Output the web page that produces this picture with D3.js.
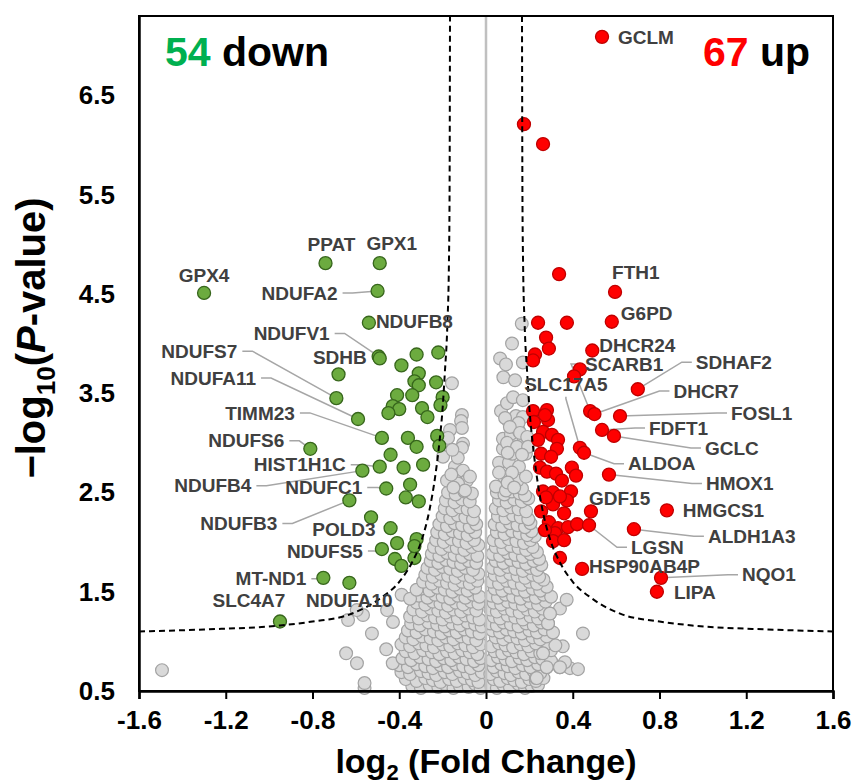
<!DOCTYPE html>
<html>
<head>
<meta charset="utf-8">
<script src="https://cdn.jsdelivr.net/npm/d3@7"></script>
<style>
  body { margin: 0; background: #fff; }
  svg text { font-family: "Liberation Sans", Arial, sans-serif; font-weight: bold; }
</style>
</head>
<body>
<svg id="chart" width="854" height="784"></svg>
<script>
var xTicks = [-1.6, -1.2, -0.8, -0.4, 0, 0.4, 0.8, 1.2, 1.6];
var yTicks = [0.5, 1.5, 2.5, 3.5, 4.5, 5.5, 6.5];

// significant down-regulated genes: [name, log2FC, -log10 p] (name "" = unlabeled)
var downGenes = [
  ["GPX4", -1.30, 4.51], ["PPAT", -0.74, 4.81], ["GPX1", -0.49, 4.81], ["NDUFA2", -0.50, 4.53],
  ["NDUFB8", -0.54, 4.21], ["NDUFV1", -0.495, 3.87], ["SDHB", -0.49, 3.85], ["NDUFS7", -0.69, 3.45],
  ["NDUFA11", -0.59, 3.24], ["TIMM23", -0.48, 3.05], ["NDUFS6", -0.81, 2.94], ["HIST1H1C", -0.49, 2.76],
  ["NDUFB4", -0.57, 2.72], ["NDUFC1", -0.46, 2.54], ["NDUFB3", -0.63, 2.42], ["POLD3", -0.44, 2.14],
  ["NDUFS5", -0.48, 1.93], ["MT-ND1", -0.75, 1.64], ["NDUFA10", -0.63, 1.59], ["SLC4A7", -0.95, 1.20],
  ["", -0.68, 3.69], ["", -0.39, 3.78], ["", -0.32, 3.89], ["", -0.22, 3.91], ["", -0.31, 3.70],
  ["", -0.33, 3.62], ["", -0.31, 3.58], ["", -0.23, 3.61], ["", -0.41, 3.48], ["", -0.34, 3.48],
  ["", -0.20, 3.46], ["", -0.21, 3.38], ["", -0.43, 3.37], ["", -0.40, 3.34], ["", -0.45, 3.30],
  ["", -0.295, 3.35], ["", -0.27, 3.26], ["", -0.36, 3.05], ["", -0.32, 2.96], ["", -0.225, 3.07],
  ["", -0.215, 2.97], ["", -0.44, 2.88], ["", -0.38, 2.75], ["", -0.29, 2.78], ["", -0.35, 2.58],
  ["", -0.37, 2.45], ["", -0.31, 2.41], ["", -0.53, 2.25], ["", -0.41, 1.99], ["", -0.32, 2.03],
  ["", -0.42, 1.83], ["", -0.39, 1.76], ["", -0.33, 1.84], ["", -0.33, 1.96]
];

// significant up-regulated genes
var upGenes = [
  ["GCLM", 0.535, 7.09], ["", 0.175, 6.21], ["", 0.263, 6.01], ["", 0.337, 4.70], ["FTH1", 0.595, 4.52],
  ["", 0.24, 4.21], ["", 0.373, 4.21], ["G6PD", 0.58, 4.22], ["", 0.277, 4.06], ["", 0.29, 3.95],
  ["DHCR24", 0.49, 3.93], ["", 0.226, 3.89], ["", 0.217, 3.83], ["", 0.433, 3.74], ["", 0.406, 3.67],
  ["SDHAF2", 0.70, 3.54], ["SCARB1", 0.48, 3.32], ["DHCR7", 0.50, 3.29], ["FOSL1", 0.618, 3.27],
  ["FDFT1", 0.535, 3.13], ["GCLC", 0.59, 3.07], ["SLC17A5", 0.433, 2.95], ["ALDOA", 0.452, 2.90],
  ["HMOX1", 0.567, 2.68], ["", 0.217, 3.32], ["", 0.281, 3.33], ["", 0.286, 3.23], ["", 0.221, 3.21],
  ["", 0.263, 3.11], ["", 0.304, 3.08], ["", 0.332, 3.03], ["", 0.327, 2.94], ["", 0.254, 2.89],
  ["", 0.30, 2.86], ["", 0.249, 2.75], ["", 0.281, 2.71], ["", 0.323, 2.69], ["", 0.396, 2.75],
  ["", 0.415, 2.67], ["", 0.263, 2.51], ["", 0.309, 2.50], ["", 0.392, 2.51], ["", 0.373, 2.42],
  ["", 0.309, 2.38], ["", 0.254, 2.31], ["GDF15", 0.484, 2.31], ["", 0.36, 2.29], ["", 0.29, 2.20],
  ["", 0.332, 2.14], ["", 0.378, 2.15], ["", 0.42, 2.18], ["LGSN", 0.475, 2.17], ["", 0.318, 2.09],
  ["", 0.309, 2.01], ["", 0.341, 1.84], ["HSP90AB4P", 0.443, 1.73], ["NQO1", 0.807, 1.64],
  ["LIPA", 0.788, 1.50], ["HMGCS1", 0.834, 2.32], ["ALDH1A3", 0.682, 2.13], ["", 0.272, 3.28],
  ["", 0.24, 3.03], ["", 0.35, 2.62], ["", 0.277, 2.45], ["", 0.341, 2.46], ["", 0.272, 2.12],
  ["", 0.36, 2.02]
];

// non-significant genes [log2FC, -log10 p]
var grayPts = [
  [-0.34,0.55],[-0.30,0.53],[-0.26,0.56],[-0.22,0.54],[-0.19,0.57],[-0.15,0.53],[-0.12,0.55],[-0.08,0.54],[-0.05,0.57],[-0.025,0.53],
  [0.025,0.55],[0.05,0.53],[0.08,0.56],[0.11,0.54],[0.15,0.57],[0.18,0.53],[0.21,0.55],[0.24,0.56],[-0.56,0.53],[-0.56,0.58],
  [-0.37,0.62],[-0.32,0.60],[-0.28,0.63],[-0.245,0.61],[-0.21,0.59],[-0.17,0.62],[-0.135,0.60],[-0.10,0.63],[-0.065,0.61],[-0.035,0.59],
  [0.035,0.62],[0.065,0.60],[0.10,0.63],[0.13,0.61],[0.165,0.59],[0.20,0.62],[0.23,0.60],[0.265,0.63],
  [-0.39,0.69],[-0.35,0.67],[-0.30,0.70],[-0.265,0.68],[-0.23,0.66],[-0.19,0.69],[-0.155,0.67],[-0.12,0.70],[-0.085,0.68],[-0.05,0.66],[-0.02,0.69],
  [0.02,0.67],[0.05,0.70],[0.085,0.68],[0.115,0.66],[0.15,0.69],[0.185,0.67],[0.22,0.70],[0.25,0.68],[0.28,0.74],[0.23,0.63],
  [-0.40,0.76],[-0.36,0.74],[-0.32,0.77],[-0.28,0.75],[-0.245,0.73],[-0.21,0.76],[-0.175,0.74],[-0.14,0.77],[-0.105,0.75],[-0.07,0.73],[-0.035,0.76],
  [0.035,0.74],[0.07,0.77],[0.10,0.75],[0.135,0.73],[0.17,0.76],[0.205,0.74],[0.24,0.77],[0.34,0.74],[0.387,0.73],[0.424,0.72],[0.364,0.79],[-0.43,0.78],[-0.595,0.78],
  [-0.385,0.83],[-0.345,0.81],[-0.305,0.84],[-0.265,0.82],[-0.23,0.80],[-0.195,0.83],[-0.16,0.81],[-0.125,0.84],[-0.09,0.82],[-0.055,0.80],[-0.025,0.83],
  [0.025,0.81],[0.055,0.84],[0.09,0.82],[0.12,0.80],[0.155,0.83],[0.19,0.81],[0.225,0.84],[0.26,0.82],[0.30,0.80],
  [-0.37,0.90],[-0.33,0.88],[-0.29,0.91],[-0.25,0.89],[-0.215,0.87],[-0.18,0.90],[-0.145,0.88],[-0.11,0.91],[-0.075,0.89],[-0.04,0.87],
  [0.04,0.90],[0.075,0.88],[0.105,0.91],[0.14,0.89],[0.175,0.87],[0.21,0.90],[0.25,0.88],[0.30,0.91],[-0.645,0.88],[-0.46,0.92],[0.354,0.95],
  [-0.39,0.97],[-0.35,0.95],[-0.31,0.98],[-0.275,0.96],[-0.24,0.94],[-0.20,0.97],[-0.165,0.95],[-0.13,0.98],[-0.095,0.96],[-0.06,0.94],[-0.025,0.97],
  [0.025,0.95],[0.06,0.98],[0.09,0.96],[0.125,0.94],[0.16,0.97],[0.195,0.95],[0.23,0.98],[0.286,0.98],[0.32,0.96],
  [-0.37,1.04],[-0.335,1.02],[-0.295,1.05],[-0.255,1.03],[-0.22,1.01],[-0.185,1.04],[-0.15,1.02],[-0.115,1.05],[-0.08,1.03],[-0.045,1.01],
  [0.045,1.04],[0.08,1.02],[0.11,1.05],[0.145,1.03],[0.18,1.01],[0.215,1.04],[0.25,1.02],[0.28,1.05],[-0.526,1.08],
  [-0.36,1.11],[-0.32,1.09],[-0.28,1.12],[-0.24,1.10],[-0.205,1.08],[-0.17,1.11],[-0.135,1.09],[-0.10,1.12],[-0.065,1.10],[-0.03,1.08],
  [0.03,1.11],[0.065,1.09],[0.095,1.12],[0.13,1.10],[0.165,1.08],[0.20,1.11],[0.235,1.09],[0.27,1.12],[0.309,1.09],[0.447,1.08],
  [-0.345,1.18],[-0.305,1.16],[-0.265,1.19],[-0.225,1.17],[-0.19,1.15],[-0.155,1.18],[-0.12,1.16],[-0.085,1.19],[-0.05,1.17],[-0.02,1.15],
  [0.02,1.18],[0.05,1.16],[0.08,1.19],[0.115,1.17],[0.15,1.15],[0.185,1.18],[0.22,1.16],[0.255,1.19],[0.286,1.18],[-0.429,1.195],[-0.636,1.215],
  [-0.35,1.25],[-0.31,1.23],[-0.27,1.26],[-0.235,1.24],[-0.20,1.22],[-0.165,1.25],[-0.13,1.23],[-0.095,1.26],[-0.06,1.24],[-0.03,1.22],
  [0.035,1.25],[0.065,1.23],[0.10,1.26],[0.135,1.24],[0.17,1.22],[0.205,1.25],[0.24,1.23],[0.27,1.26],[0.295,1.28],[-0.567,1.265],
  [-0.335,1.32],[-0.295,1.30],[-0.255,1.33],[-0.22,1.31],[-0.185,1.29],[-0.15,1.32],[-0.115,1.30],[-0.08,1.33],[-0.045,1.31],
  [0.02,1.32],[0.05,1.30],[0.085,1.33],[0.12,1.31],[0.155,1.29],[0.19,1.32],[0.225,1.30],[0.26,1.33],[0.341,1.33],[-0.596,1.315],[-0.456,1.315],
  [-0.32,1.39],[-0.28,1.37],[-0.245,1.40],[-0.21,1.38],[-0.175,1.36],[-0.14,1.39],[-0.105,1.37],[-0.07,1.40],[-0.035,1.38],
  [0.035,1.39],[0.07,1.37],[0.10,1.40],[0.135,1.38],[0.17,1.36],[0.205,1.39],[0.24,1.37],[0.275,1.40],
  [-0.31,1.46],[-0.27,1.44],[-0.235,1.47],[-0.20,1.45],[-0.165,1.43],[-0.13,1.46],[-0.095,1.44],[-0.06,1.47],[-0.03,1.45],
  [0.025,1.46],[0.055,1.44],[0.09,1.47],[0.125,1.45],[0.16,1.43],[0.195,1.46],[0.23,1.44],[0.265,1.47],[0.30,1.45],[0.372,1.42],[-0.389,1.47],[-0.35,1.43],
  [-0.30,1.53],[-0.26,1.51],[-0.225,1.54],[-0.19,1.52],[-0.155,1.50],[-0.12,1.53],[-0.085,1.51],[-0.05,1.54],
  [0.04,1.53],[0.075,1.51],[0.11,1.54],[0.145,1.52],[0.18,1.50],[0.215,1.53],[0.25,1.51],[0.28,1.55],[-0.32,1.52],
  [-0.29,1.60],[-0.25,1.58],[-0.215,1.61],[-0.18,1.59],[-0.145,1.57],[-0.11,1.60],[-0.075,1.58],[-0.04,1.61],
  [0.025,1.60],[0.06,1.58],[0.095,1.61],[0.13,1.59],[0.165,1.57],[0.20,1.60],[0.235,1.58],[0.265,1.62],
  [-0.28,1.67],[-0.245,1.65],[-0.21,1.68],[-0.175,1.66],[-0.14,1.64],[-0.105,1.67],[-0.07,1.65],[-0.035,1.68],
  [0.04,1.67],[0.075,1.65],[0.11,1.68],[0.145,1.66],[0.18,1.64],[0.215,1.67],[0.245,1.65],
  [-0.27,1.74],[-0.235,1.72],[-0.20,1.75],[-0.165,1.73],[-0.13,1.71],[-0.095,1.74],[-0.06,1.72],
  [0.03,1.74],[0.065,1.72],[0.10,1.75],[0.135,1.73],[0.17,1.71],[0.205,1.74],[0.235,1.72],[0.255,1.77],
  [-0.255,1.81],[-0.22,1.79],[-0.185,1.82],[-0.15,1.80],[-0.115,1.78],[-0.08,1.81],[-0.045,1.79],
  [0.045,1.81],[0.08,1.79],[0.115,1.82],[0.15,1.80],[0.185,1.78],[0.22,1.81],[0.245,1.83],
  [-0.25,1.88],[-0.215,1.86],[-0.18,1.89],[-0.145,1.87],[-0.11,1.85],[-0.075,1.88],[-0.04,1.86],
  [0.03,1.88],[0.065,1.86],[0.10,1.89],[0.135,1.87],[0.17,1.85],[0.205,1.88],[0.235,1.90],
  [-0.24,1.95],[-0.205,1.93],[-0.17,1.96],[-0.135,1.94],[-0.10,1.92],[-0.065,1.95],[-0.035,1.97],
  [0.045,1.95],[0.08,1.93],[0.115,1.96],[0.15,1.94],[0.185,1.92],[0.215,1.95],
  [-0.23,2.02],[-0.195,2.00],[-0.16,2.03],[-0.125,2.01],[-0.09,1.99],[-0.055,2.02],
  [0.035,2.02],[0.07,2.00],[0.105,2.03],[0.14,2.01],[0.175,1.99],[0.205,2.02],[0.225,2.06],
  [-0.225,2.10],[-0.19,2.08],[-0.155,2.11],[-0.12,2.09],[-0.085,2.07],[-0.05,2.10],
  [0.05,2.10],[0.085,2.08],[0.12,2.11],[0.155,2.09],[0.19,2.07],[0.21,2.11],
  [-0.215,2.18],[-0.18,2.16],[-0.145,2.19],[-0.11,2.17],[-0.075,2.15],[-0.045,2.18],
  [0.04,2.18],[0.075,2.16],[0.11,2.19],[0.145,2.17],[0.18,2.15],[0.205,2.19],
  [-0.20,2.26],[-0.165,2.24],[-0.13,2.27],[-0.095,2.25],[-0.06,2.23],
  [0.055,2.26],[0.09,2.24],[0.125,2.27],[0.16,2.25],[0.195,2.23],
  [-0.19,2.34],[-0.155,2.32],[-0.12,2.35],[-0.085,2.33],[-0.055,2.31],
  [0.045,2.34],[0.08,2.32],[0.115,2.35],[0.15,2.33],[0.185,2.31],
  [-0.185,2.42],[-0.145,2.40],[-0.11,2.43],[-0.075,2.41],
  [0.06,2.42],[0.095,2.40],[0.13,2.43],[0.165,2.41],[0.195,2.44],
  [-0.175,2.50],[-0.14,2.48],[-0.10,2.51],[-0.065,2.49],
  [0.05,2.50],[0.085,2.48],[0.12,2.51],[0.155,2.49],[0.18,2.47],
  [0.046,2.56],[0.092,2.52],[0.166,2.54],[0.083,2.66],[0.145,2.62],[0.184,2.66],[0.06,2.80],[0.106,2.80],[0.152,2.76],
  [0.078,2.94],[0.122,2.89],[0.184,2.89],[0.145,2.99],[0.175,3.03],[0.078,3.04],[0.115,3.09],[0.152,3.12],[0.106,3.21],
  [0.138,3.27],[0.069,3.32],[0.097,3.40],[0.125,3.46],[0.17,3.43],[0.17,3.26],[0.088,3.25],[0.15,3.20],[0.11,3.16],
  [0.157,3.10],[0.19,3.06],[0.097,3.00],[0.143,2.96],[0.194,2.96],[0.10,2.90],[0.166,2.88],[0.08,3.66],[0.134,3.63],
  [0.065,3.85],[0.092,3.79],[0.17,3.81],[0.12,4.00],[0.165,4.20],[0.06,2.70],[0.12,2.70],[0.10,2.60],[0.13,2.55],
  [-0.157,3.60],[-0.111,3.28],[-0.115,3.22],[-0.111,3.15],[-0.166,3.13],[-0.175,3.05],[-0.106,2.99],[-0.111,2.95],
  [-0.198,2.86],[-0.143,2.76],[-0.12,2.69],[-0.106,2.72],[-0.088,2.62],[-0.129,2.59],[-0.097,2.52],[-0.18,2.62],
  [-0.074,2.66],[-0.15,2.55],[-0.16,2.68],[-0.13,2.85],[-0.155,2.93],
  [-1.494,0.71],[0.341,0.74],[0.28,0.74],[0.234,0.63],[0.263,0.88],[0.286,1.18],[0.295,1.28]
];

// threshold curve: [|log2FC|, -log10 p]
var cutoff = [
  [0.166, 7.3], [0.168, 5.5], [0.171, 4.8], [0.178, 4.2], [0.19, 3.7], [0.20, 3.35], [0.215, 3.0],
  [0.235, 2.65], [0.26, 2.33], [0.295, 2.03], [0.34, 1.8], [0.40, 1.6], [0.49, 1.43], [0.63, 1.27],
  [0.80, 1.2], [0.95, 1.16], [1.3, 1.12], [1.6, 1.1]
];

// label placement: offset in px from the point, text anchor, leader line
var labelLayout = {
  "GCLM": [16, 1, "start", false], "FTH1": [-3, -20, "start", false], "G6PD": [9, -8, "start", false],
  "DHCR24": [7, -5, "start", false], "SCARB1": [-5, -47, "start", true], "SDHAF2": [58, -27, "start", true],
  "DHCR7": [79, -23, "start", true], "FOSL1": [111, -3, "start", true], "FDFT1": [47, -2, "start", true],
  "GCLC": [91, 12, "start", true], "SLC17A5": [-14, -63, "middle", true], "ALDOA": [44, 11, "start", true],
  "HMOX1": [97, 9, "start", true], "GDF15": [-2, -13, "start", false], "HMGCS1": [16, 0, "start", false],
  "ALDH1A3": [74, 7, "start", true], "LGSN": [42, 22, "start", true], "HSP90AB4P": [7, -3, "start", false],
  "NQO1": [81, -3, "start", true], "LIPA": [17, 1, "start", false],
  "GPX4": [0, -18, "middle", false], "PPAT": [6, -19, "middle", false], "GPX1": [12, -20, "middle", false],
  "NDUFA2": [-40, 2, "end", true], "NDUFB8": [7, -1, "start", false], "NDUFV1": [-49, -23, "end", true],
  "SDHB": [-13, -1, "end", false], "NDUFS7": [-99, -47, "end", true], "NDUFA11": [-102, -41, "end", true],
  "TIMM23": [-87, -25, "end", true], "NDUFS6": [-26, -8, "end", true], "HIST1H1C": [-34, -2, "end", true],
  "NDUFB4": [-111, 15, "end", true], "NDUFC1": [-24, -1, "end", true], "NDUFB3": [-72, 23, "end", true],
  "POLD3": [-15, 1, "end", false], "NDUFS5": [-19, 2, "end", true], "MT-ND1": [-17, 1, "end", true],
  "NDUFA10": [0, 18, "middle", false], "SLC4A7": [-31, -21, "middle", false]
};

var svg = d3.select("#chart");
var margin = { top: 16, right: 21, bottom: 93, left: 139 };
var W = 854, H = 784;

var x = d3.scaleLinear().domain([-1.6, 1.6]).range([margin.left, W - margin.right]);
var y = d3.scaleLinear().domain([0.5, 7.3]).range([H - margin.bottom, margin.top]);

// gray background genes
svg.append("g").selectAll("circle")
  .data(grayPts)
  .enter().append("circle")
  .attr("cx", function (d) { return x(d[0]); })
  .attr("cy", function (d) { return y(d[1]); })
  .attr("r", 6.4)
  .style("fill", "#d9d9d9")
  .style("stroke", "#a3a3a3")
  .style("stroke-width", 1.2);

// zero line
svg.append("line")
  .attr("x1", x(0)).attr("x2", x(0))
  .attr("y1", y(0.5)).attr("y2", y(7.3))
  .style("stroke", "#c0c0c0")
  .style("stroke-width", 2.5);

// leader lines
var allLabeled = downGenes.concat(upGenes).filter(function (d) { return d[0] !== ""; });
svg.append("g").selectAll("polyline")
  .data(allLabeled.filter(function (d) { return labelLayout[d[0]][3]; }))
  .enter().append("polyline")
  .attr("points", function (d) {
    var l = labelLayout[d[0]];
    var px = x(d[1]), py = y(d[2]);
    var tx = px + l[0], ty = py + l[1];
    var p1, p2;
    if (l[2] === "end") { p1 = [tx + 5, ty]; p2 = [tx + 15, ty]; }
    else if (l[2] === "start") { p1 = [tx - 4, ty]; p2 = [tx - 14, ty]; }
    else { p1 = [tx, ty + 12]; p2 = [tx, ty + 14]; }
    return [p1, p2, [px, py]].map(function (p) { return p[0] + "," + p[1]; }).join(" ");
  })
  .style("fill", "none")
  .style("stroke", "#a6a6a6")
  .style("stroke-width", 1.5);

function drawGenes(data, fill, stroke) {
  svg.append("g").selectAll("circle")
    .data(data)
    .enter().append("circle")
    .attr("cx", function (d) { return x(d[1]); })
    .attr("cy", function (d) { return y(d[2]); })
    .attr("r", 6.5)
    .style("fill", fill)
    .style("stroke", stroke)
    .style("stroke-width", 1.3);
}
drawGenes(downGenes, "#6cab3f", "#37661c");
drawGenes(upGenes, "#ff0000", "#c00000");

// threshold curves
var curveLine = d3.line()
  .x(function (d) { return x(d[0]); })
  .y(function (d) { return y(d[1]); })
  .curve(d3.curveMonotoneX);
var leftCut = cutoff.map(function (d) { return [-d[0], d[1]]; }).reverse();
[cutoff, leftCut].forEach(function (c) {
  svg.append("path")
    .attr("d", curveLine(c))
    .style("fill", "none")
    .style("stroke", "#000")
    .style("stroke-width", 2)
    .style("stroke-dasharray", "6,4");
});

// gene labels
svg.append("g").selectAll("text")
  .data(allLabeled)
  .enter().append("text")
  .attr("x", function (d) { return x(d[1]) + labelLayout[d[0]][0]; })
  .attr("y", function (d) { return y(d[2]) + labelLayout[d[0]][1]; })
  .attr("dy", "0.35em")
  .style("text-anchor", function (d) { return labelLayout[d[0]][2]; })
  .style("font-size", "19px")
  .style("fill", "#404040")
  .text(function (d) { return d[0]; });

// frame
svg.append("rect")
  .attr("x", x(-1.6)).attr("y", y(7.3))
  .attr("width", x(1.6) - x(-1.6)).attr("height", y(0.5) - y(7.3))
  .style("fill", "none")
  .style("stroke", "#000")
  .style("stroke-width", 2);

// axes
var xAxis = svg.append("g")
  .attr("transform", "translate(0," + y(0.5) + ")")
  .call(d3.axisBottom(x).tickValues(xTicks).tickSize(8).tickPadding(12)
    .tickFormat(function (d) { return d === 0 ? "0" : d.toFixed(1); }));
xAxis.select(".domain").style("stroke-width", 2.5);
xAxis.selectAll(".tick line").style("stroke-width", 2);
xAxis.selectAll("text").style("font-size", "26px").style("fill", "#000");

var yAxis = svg.append("g")
  .attr("transform", "translate(" + x(-1.6) + ",0)")
  .call(d3.axisLeft(y).tickValues(yTicks).tickSize(0).tickPadding(24)
    .tickFormat(function (d) { return d.toFixed(1); }));
yAxis.select(".domain").style("stroke-width", 2.5);
yAxis.selectAll("text").style("font-size", "26px").style("fill", "#000");

// axis titles
var xt = svg.append("text")
  .attr("x", x(0)).attr("y", 773)
  .style("text-anchor", "middle")
  .style("font-size", "34px");
xt.append("tspan").text("log");
xt.append("tspan").attr("dy", 7).style("font-size", "22px").text("2");
xt.append("tspan").attr("dy", -7).text(" (Fold Change)");

var yt = svg.append("text")
  .attr("transform", "translate(45,338) rotate(-90)")
  .style("text-anchor", "middle")
  .style("font-size", "40px");
yt.append("tspan").text("\u2212log");
yt.append("tspan").attr("dy", 10).style("font-size", "26px").text("10");
yt.append("tspan").attr("dy", -10).text("(");
yt.append("tspan").style("font-style", "italic").text("P");
yt.append("tspan").text("-value)");

// counts
var dn = svg.append("text").attr("x", 165).attr("y", 66).style("font-size", "41px");
dn.append("tspan").style("fill", "#00b050").text(downGenes.length);
dn.append("tspan").style("fill", "#000").text(" down");
var up = svg.append("text").attr("x", 810).attr("y", 66).style("text-anchor", "end").style("font-size", "41px");
up.append("tspan").style("fill", "#ff0000").text(upGenes.length);
up.append("tspan").style("fill", "#000").text(" up");
</script>
</body>
</html>
